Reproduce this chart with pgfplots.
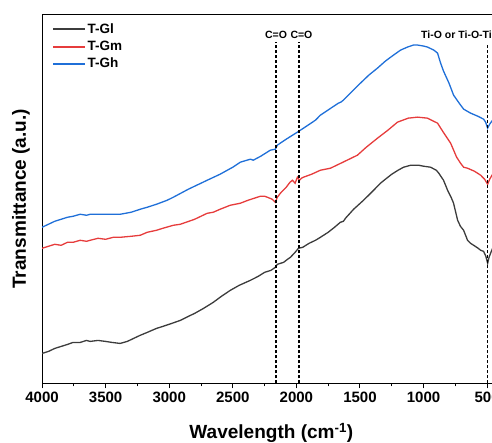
\documentclass[border=0pt]{standalone}
\usepackage{pgfplots}
\pgfplotsset{compat=1.18}
\pgfplotsset{legend image code/.code={\draw[#1, line width=2pt] (0pt,0pt) -- (31pt,0pt);}}
\usepackage{fontspec}
\setmainfont{Liberation Sans}
\definecolor{cgl}{HTML}{3C3C3C}
\definecolor{cgm}{HTML}{E63C3C}
\definecolor{cgh}{HTML}{1F6FD8}
\begin{document}
\begin{tikzpicture}
\begin{axis}[
  scale only axis, width=450pt, height=369pt,
  x dir=reverse, xmin=457, xmax=4000, ymin=0, ymax=369,
  xtick={500,1000,...,4000}, minor x tick num=1,
  ytick=\empty,
  tick align=outside, tick pos=left,
  major tick length=5pt, minor tick length=3pt,
  axis line style={line width=1pt},
  every tick/.style={line width=1pt, black},
  xticklabel style={font=\fontsize{15}{18}\selectfont\bfseries},
  /pgf/number format/assume math mode=true,
  /pgf/number format/1000 sep={},
  xlabel={Wavelength (cm\textsuperscript{-1})},
  ylabel={Transmittance (a.u.)},
  label style={font=\fontsize{19}{22}\selectfont\bfseries},
  xlabel style={at={(axis description cs:0.509,-0.133)}, anchor=center},
  ylabel style={at={(axis description cs:-0.047,0.5)}, anchor=center},
  legend style={at={(axis description cs:0.016,0.985)}, anchor=north west, draw=none, fill=none,
    font=\fontsize{13.5}{15}\selectfont\bfseries, row sep=2pt},
  legend cell align=left,
]
\addplot[color=cgl, line width=1.3pt] coordinates {
(4000,30)(3950,32)(3900,35)(3850,37)(3800,39)(3756,41)(3700,41)(3650,43)(3622,42)(3560,43)
(3500,42)(3450,41)(3386,40)(3330,42)(3280,45)(3230,48)(3173,51)(3100,55)(3050,57)(2980,60)
(2913,63)(2850,67)(2800,70)(2730,75)(2654,81)(2590,87)(2520,93)(2450,98)(2362,103)(2300,107)
(2250,111)(2200,113)(2165,116)(2150,119)(2100,121)(2070,124)(2047,126)(2010,131)(1984,135)
(1950,136)(1900,140)(1850,143)(1811,146)(1750,151)(1700,156)(1654,161)(1630,162)(1614,165)
(1550,174)(1472,183)(1400,192)(1339,200)(1290,205)(1250,209)(1200,213)(1157,216)(1100,218)
(1079,218)(1040,218)(1000,217)(945,216)(900,213)(880,210)(843,203)(811,193)(780,185)(764,180)
(732,163)(710,157)(685,153)(654,143)(630,140)(606,138)(570,135)(551,133)(528,132)(510,127)
(496,120)(485,126)(470,131)(457,135)};
\addlegendentry{T-Gl}
\addplot[color=cgm, line width=1.3pt] coordinates {
(4000,135)(3950,137)(3900,139)(3850,138)(3800,141)(3756,141)(3700,143)(3650,142)(3622,143)
(3560,145)(3500,144)(3440,146)(3386,146)(3300,147)(3228,148)(3173,151)(3100,153)(3050,155)
(2968,158)(2913,159)(2800,164)(2701,170)(2654,171)(2600,174)(2520,178)(2441,180)(2380,183)
(2283,187)(2250,187)(2228,186)(2190,184)(2165,181)(2150,186)(2126,190)(2080,196)(2050,201)
(2031,203)(2010,200)(1992,206)(1976,203)(1960,205)(1945,206)(1880,209)(1811,213)(1732,215)
(1650,220)(1520,228)(1450,236)(1362,245)(1280,253)(1205,261)(1120,265)(1047,266)(970,265)
(890,260)(850,252)(787,240)(740,226)(709,220)(685,216)(654,215)(600,212)(575,210)(551,208)
(520,204)(496,199)(480,204)(457,209)};
\addlegendentry{T-Gm}
\addplot[color=cgh, line width=1.3pt] coordinates {
(4000,156)(3950,159)(3900,162)(3850,164)(3800,166)(3756,167)(3700,169)(3650,168)(3622,169)
(3560,169)(3500,169)(3440,169)(3386,169)(3300,171)(3228,174)(3173,176)(3100,179)(3016,183)
(2968,186)(2850,194)(2701,203)(2600,209)(2500,216)(2441,221)(2362,224)(2339,223)(2280,227)
(2205,233)(2165,234)(2150,238)(2080,244)(1992,251)(1920,257)(1850,263)(1811,268)(1717,276)
(1669,280)(1650,281)(1630,283)(1560,292)(1496,300)(1430,308)(1362,315)(1300,322)(1236,328)
(1180,333)(1126,336)(1080,338)(1047,338)(1000,337)(969,336)(920,333)(890,330)(866,320)
(843,312)(800,300)(764,288)(720,280)(685,274)(630,270)(575,267)(528,264)(512,261)(496,255)
(480,259)(457,263)};
\addlegendentry{T-Gh}
\addplot[black, line width=1.2pt, dash pattern=on 3pt off 2pt, forget plot] coordinates {(2160,0)(2160,341)};
\addplot[black, line width=1.2pt, dash pattern=on 3pt off 2pt, forget plot] coordinates {(1980,0)(1980,341)};
\addplot[black, line width=1.2pt, dash pattern=on 3pt off 2pt, forget plot] coordinates {(495,0)(495,338)};
\node[font=\fontsize{10.5}{12}\selectfont\bfseries, anchor=south] at (axis cs:2160,341) {C=O};
\node[font=\fontsize{10.5}{12}\selectfont\bfseries, anchor=south] at (axis cs:1960,341) {C=O};
\node[font=\fontsize{10.5}{12}\selectfont\bfseries, anchor=south west, inner xsep=0pt] at (axis cs:1020,341) {Ti-O or Ti-O-Ti};
\coordinate (sw) at (rel axis cs:0,0);
\coordinate (ne) at (rel axis cs:1,1);
\end{axis}
\pgfresetboundingbox
\path[use as bounding box] ([xshift=-42pt,yshift=-59pt]sw) rectangle ([xshift=-0.6pt,yshift=14pt]ne);
\end{tikzpicture}
\end{document}
